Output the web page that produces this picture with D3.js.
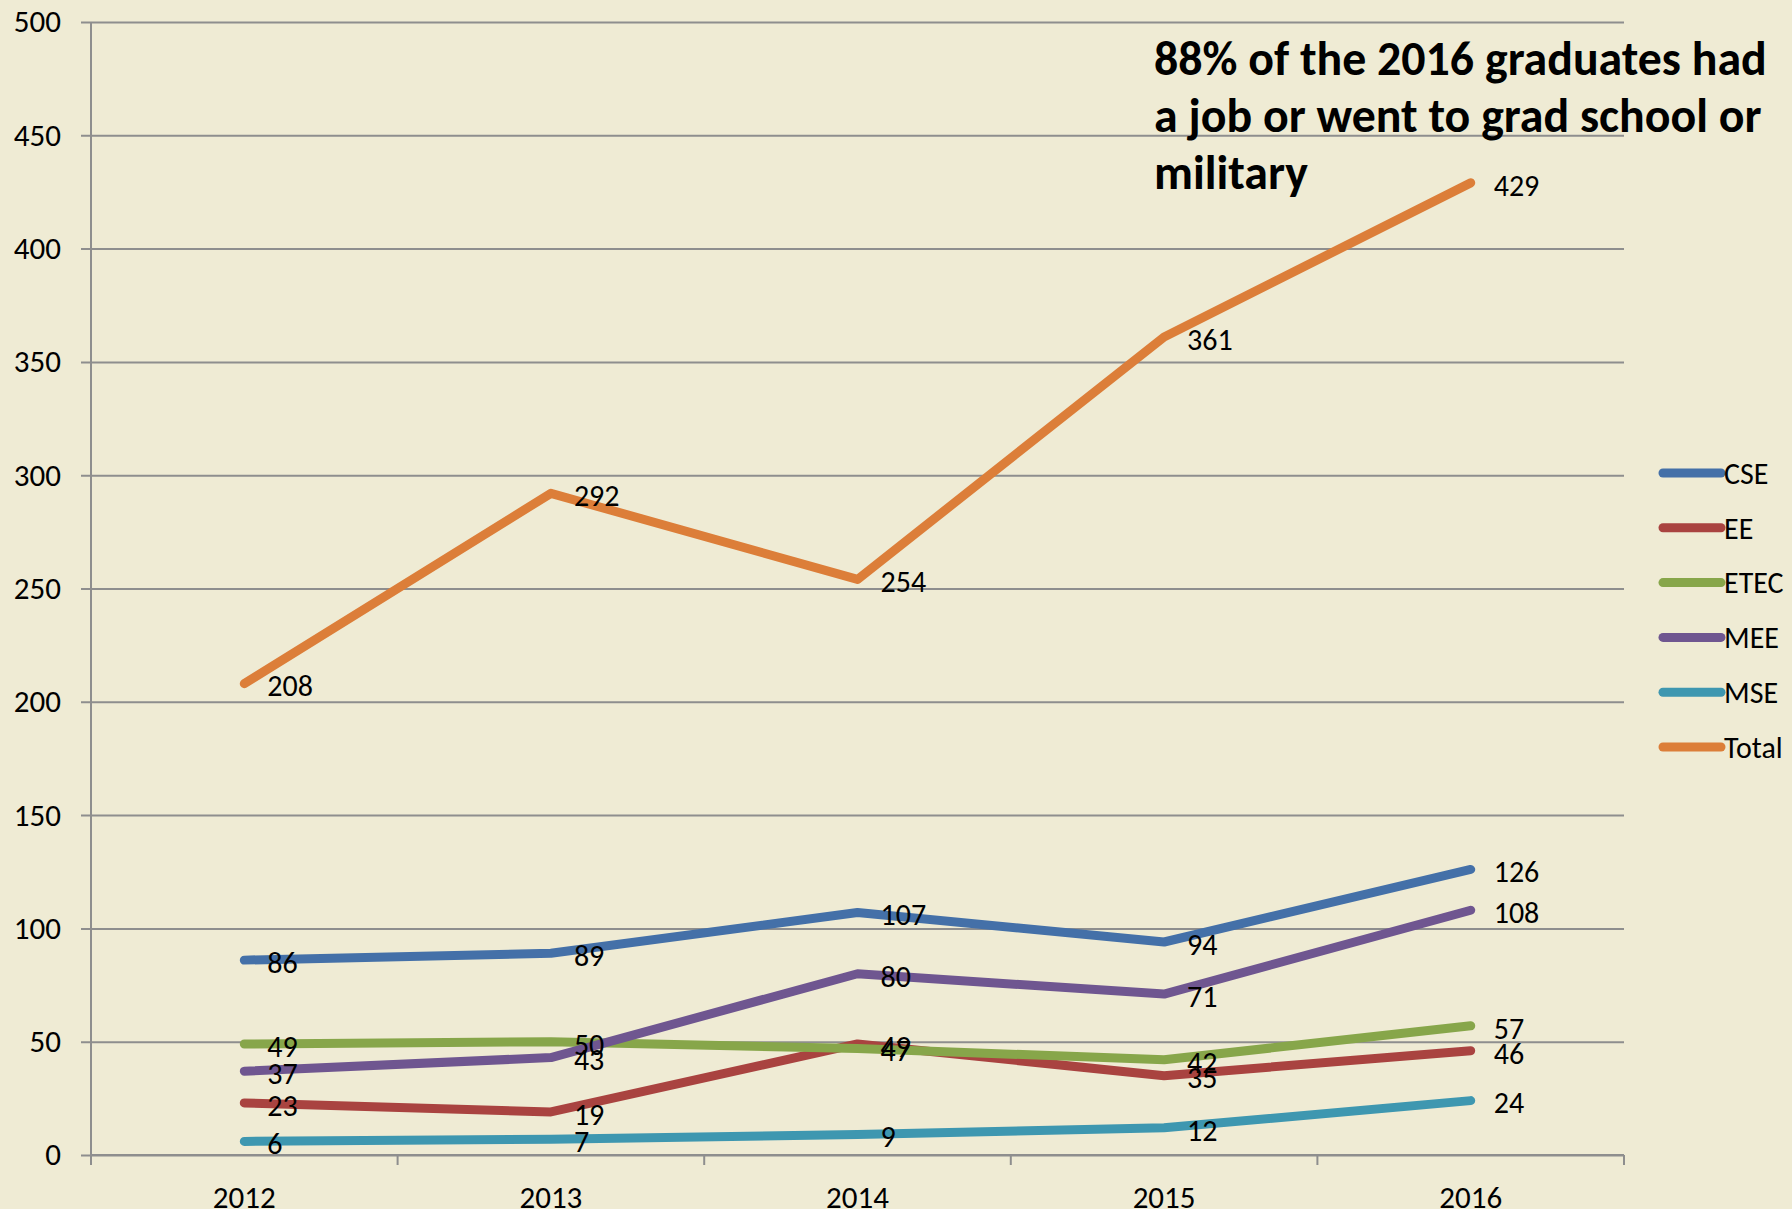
<!DOCTYPE html>
<html>
<head>
<meta charset="utf-8">
<script src="https://cdn.jsdelivr.net/npm/d3@7"></script>
<style>
  html, body { margin: 0; padding: 0; background: #EFEBD4; }
  svg { display: block; }
</style>
</head>
<body>
<div id="chart"></div>
<script>
// Years on the x axis
var years = ["2012", "2013", "2014", "2015", "2016"];

// Graduates per program, one array per series
var cse   = [86, 89, 107, 94, 126];
var ee    = [23, 19, 49, 35, 46];
var etec  = [49, 50, 47, 42, 57];
var mee   = [37, 43, 80, 71, 108];
var mse   = [6, 7, 9, 12, 24];
var total = [208, 292, 254, 361, 429];

var seriesNames = ["CSE", "EE", "ETEC", "MEE", "MSE", "Total"];
var yTicks = [0, 50, 100, 150, 200, 250, 300, 350, 400, 450, 500];

var titleLines = ["88% of the 2016 graduates had", "a job or went to grad school or", "military"];

var drawChart = function(){
    // Look and feel
    var fontFamily = "Carlito, Lato, sans-serif";
    var bg = "#EFEBD4";
    var gridColor = "#8E8E8E";
    var colors = ["#4470A8", "#A94340", "#87A64A", "#6F5690", "#3E97B0", "#DC7E39"];
    var lineWidth = 9;
    var labelSize = 30;

    const width = 1792;
    const height = 1209;

    var series = [cse, ee, etec, mee, mse, total].map(function(vals, i){
        return { name: seriesNames[i], color: colors[i], values: vals };
    });

    var svg = d3.select("#chart")
        .append("svg")
        .attr("width", width)
        .attr("height", height)
        .style("background-color", bg);

    // Plot area
    var left = 91, right = 1624, top = 22, bottom = 1155;

    var x = d3.scaleBand()
        .domain(years)
        .range([left, right]);

    var y = d3.scaleLinear()
        .domain([0, 500])
        .range([bottom, top]);

    // Horizontal gridlines with left tick marks
    var yAxis = d3.axisLeft(y)
        .tickValues(yTicks)
        .tickSize(-(right - left) - 10)
        .tickPadding(20)
        .tickFormat(d3.format("d"));

    var gy = svg.append("g")
        .attr("transform", "translate(" + left + ",0)")
        .call(yAxis);
    gy.select(".domain").remove();
    gy.selectAll(".tick line")
        .attr("x1", -10)
        .attr("x2", right - left)
        .attr("stroke", gridColor)
        .attr("stroke-width", 2);
    gy.selectAll(".tick text")
        .attr("x", -30)
        .attr("font-family", fontFamily)
        .attr("font-size", 31)
        .attr("fill", "#000");

    // Vertical axis line
    svg.append("line")
        .attr("x1", left).attr("x2", left)
        .attr("y1", top).attr("y2", bottom + 10)
        .attr("stroke", gridColor)
        .attr("stroke-width", 2);

    // X axis: ticks at band boundaries, labels at band centres
    var gx = svg.append("g")
        .attr("transform", "translate(0," + bottom + ")");
    gx.append("line")
        .attr("x1", left).attr("x2", right)
        .attr("stroke", gridColor)
        .attr("stroke-width", 2);
    var edges = years.map(function(d){ return x(d); }).concat([right]);
    gx.selectAll(".xtick")
        .data(edges)
        .enter().append("line")
        .attr("class", "xtick")
        .attr("x1", function(d){ return d; })
        .attr("x2", function(d){ return d; })
        .attr("y1", 0).attr("y2", 10)
        .attr("stroke", gridColor)
        .attr("stroke-width", 2);
    gx.selectAll(".xlabel")
        .data(years)
        .enter().append("text")
        .attr("class", "xlabel")
        .attr("x", function(d){ return x(d) + x.bandwidth() / 2; })
        .attr("y", 53)
        .attr("text-anchor", "middle")
        .attr("font-family", fontFamily)
        .attr("font-size", 31)
        .text(function(d){ return d; });

    // Lines
    var line = d3.line()
        .x(function(d, i){ return x(years[i]) + x.bandwidth() / 2; })
        .y(function(d){ return y(d); });

    svg.selectAll(".series")
        .data(series)
        .enter().append("path")
        .attr("class", "series")
        .attr("d", function(d){ return line(d.values); })
        .attr("fill", "none")
        .attr("stroke", function(d){ return d.color; })
        .attr("stroke-width", lineWidth)
        .attr("stroke-linecap", "round")
        .attr("stroke-linejoin", "round");

    // Data labels to the right of each point
    series.forEach(function(s){
        svg.append("g").selectAll("text")
            .data(s.values)
            .enter().append("text")
            .attr("x", function(d, i){ return x(years[i]) + x.bandwidth() / 2 + 23; })
            .attr("y", function(d){ return y(d) + 2; })
            .attr("dy", "0.36em")
            .attr("font-family", fontFamily)
            .attr("font-size", labelSize)
            .text(function(d){ return d; });
    });

    // Legend
    var legend = svg.append("g")
        .attr("transform", "translate(1663,473)");
    var item = legend.selectAll("g")
        .data(series)
        .enter().append("g")
        .attr("transform", function(d, i){ return "translate(0," + (i * 54.8) + ")"; });
    item.append("line")
        .attr("x1", 0).attr("x2", 58)
        .attr("stroke", function(d){ return d.color; })
        .attr("stroke-width", lineWidth)
        .attr("stroke-linecap", "round");
    item.append("text")
        .attr("x", 61)
        .attr("dy", "0.36em")
        .attr("font-family", fontFamily)
        .attr("font-size", labelSize)
        .text(function(d){ return d.name; });

    // Annotation, sized so the first line spans the same width as the original
    var title = svg.append("text")
        .attr("font-family", fontFamily)
        .attr("font-weight", "bold")
        .attr("font-size", 40);
    title.selectAll("tspan")
        .data(titleLines)
        .enter().append("tspan")
        .attr("x", 1154)
        .attr("y", function(d, i){ return 75 + i * 57; })
        .text(function(d){ return d; });
    var w = title.select("tspan").node().getComputedTextLength();
    title.attr("font-size", 40 * 613 / w);
};

drawChart();
</script>
</body>
</html>
